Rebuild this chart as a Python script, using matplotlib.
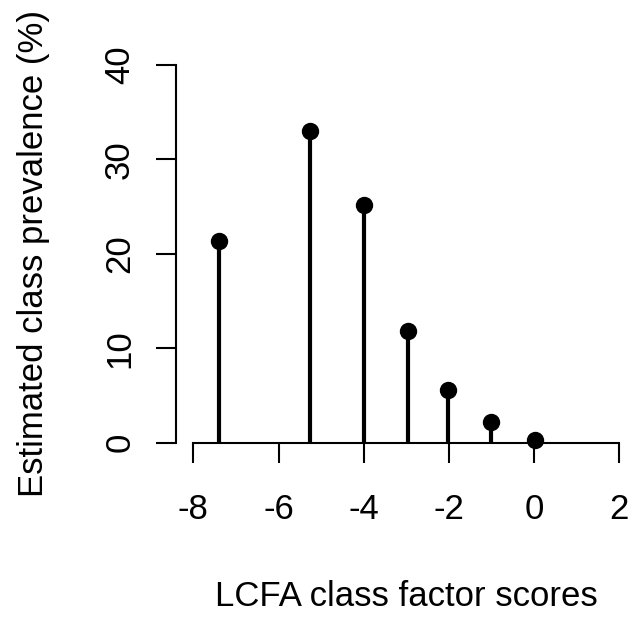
import matplotlib
matplotlib.use("Agg")
import matplotlib.pyplot as plt

plt.rcParams["font.family"] = ["Liberation Sans", "DejaVu Sans"]

# LCFA class factor scores and estimated prevalence (%)
factor_scores = [-7.40, -5.25, -3.99, -2.97, -2.03, -1.02, 0.01]
prevalence = [21.3, 33.0, 25.2, 11.8, 5.6, 2.2, 0.3]

x_ticks = [-8, -6, -4, -2, 0, 2]
y_ticks = [0, 10, 20, 30, 40]

W, H = 628, 618
fig = plt.figure(figsize=(W / 100, H / 100), dpi=100)

# plot region in pixels (R-like, right edge a bit past the image)
left, bottom, right, top = 176.3, 618 - 442.7, 636.3, 618 - 64.7
ax = fig.add_axes([left / W, bottom / H, (right - left) / W, (top - bottom) / H])

ax.vlines(factor_scores, 0, prevalence, colors="black", linewidth=3.0)
ax.plot(factor_scores, prevalence, "o", color="black", markersize=11.5,
        clip_on=False)

ax.set_xlim(-8.4, 2.4)
ax.set_ylim(0, 40)

for side in ["top", "right"]:
    ax.spines[side].set_visible(False)
ax.spines["left"].set_bounds(0, 40)
ax.spines["bottom"].set_bounds(-8, 2)
ax.spines["left"].set_linewidth(1.5)
ax.spines["bottom"].set_linewidth(1.5)

ax.set_xticks(x_ticks)
ax.set_xticklabels([str(v) for v in x_ticks])
ax.set_yticks(y_ticks)
ax.set_yticklabels([str(v) for v in y_ticks], rotation=90, va="center")

ax.tick_params(axis="both", direction="out", length=14.4, width=1.5,
               labelsize=25, color="black")
ax.tick_params(axis="x", pad=22)
ax.tick_params(axis="y", pad=14.5)

ax.set_xlabel("LCFA class factor scores", fontsize=25, labelpad=39)
ax.set_ylabel("Estimated class prevalence (%)", fontsize=25, labelpad=38.5)

fig.savefig("out.png", dpi=100)
